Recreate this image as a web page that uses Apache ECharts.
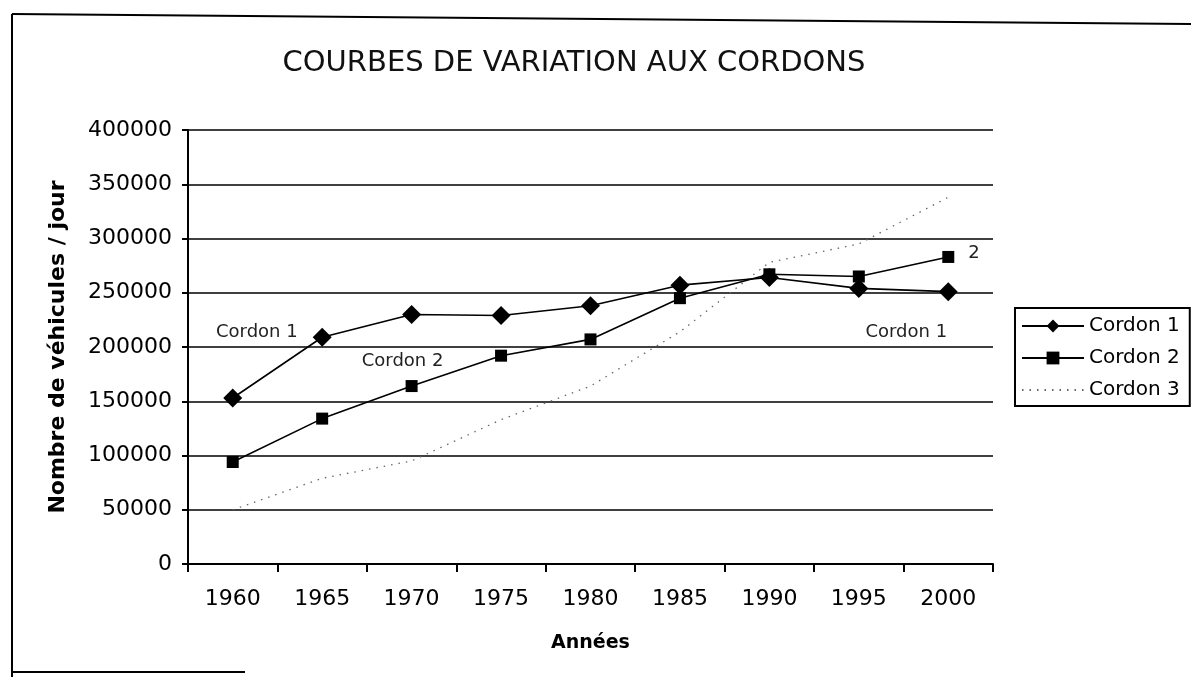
<!DOCTYPE html>
<html>
<head>
<meta charset="utf-8">
<script src="https://cdn.jsdelivr.net/npm/echarts@6/dist/echarts.min.js"></script>
<style>
  html, body { margin: 0; padding: 0; background: #fff; }
  #chart { width: 1191px; height: 677px; }
</style>
</head>
<body>
<div id="chart"></div>
<script>
const years = ['1960', '1965', '1970', '1975', '1980', '1985', '1990', '1995', '2000'];
const cordon1 = [153000, 209000, 230000, 229000, 238000, 257000, 264000, 254000, 251000];
const cordon2 = [94000, 134000, 164000, 192000, 207000, 245000, 267000, 265000, 283000];
const cordon3 = [50000, 79000, 95000, 133000, 164000, 214000, 278000, 295000, 338000];
const seriesNames = ['Cordon 1', 'Cordon 2', 'Cordon 3'];
const yTicks = { min: 0, max: 400000, interval: 50000 };

const FONT = 'DejaVu Sans';
const annoStyle = { show: true, color: '#222', fontFamily: FONT, fontSize: 18 };

function withLabels(values, labels) {
  return values.map((v, i) => labels[i] ? { value: v, label: Object.assign({}, annoStyle, labels[i]) } : v);
}

const c1Data = withLabels(cordon1, {
  1: { formatter: 'Cordon 1', position: 'left', distance: 15, offset: [0, -5] },
  8: { formatter: 'Cordon 1', position: 'bottom', distance: 4, offset: [-42, 18] }
});
const c2Data = withLabels(cordon2, {
  2: { formatter: 'Cordon 2', position: 'top', distance: 10, offset: [-9, 0] },
  8: { formatter: '2', position: 'right', distance: 14, offset: [0, -4] }
});

const chart = echarts.init(document.getElementById('chart'), null, { renderer: 'canvas' });
chart.setOption({
  backgroundColor: '#fff',
  animation: false,
  title: {
    text: 'COURBES DE VARIATION AUX CORDONS',
    left: 569, top: 44, textAlign: 'center',
    textStyle: { fontFamily: FONT, fontSize: 29, fontWeight: 'normal', color: '#111' }
  },
  graphic: [
    { type: 'line', shape: { x1: 12, y1: 14, x2: 1191, y2: 24 }, style: { stroke: '#000', lineWidth: 2 } },
    { type: 'line', shape: { x1: 12, y1: 14, x2: 12, y2: 677 }, style: { stroke: '#000', lineWidth: 2 } },
    { type: 'line', shape: { x1: 12, y1: 672, x2: 245, y2: 672 }, style: { stroke: '#000', lineWidth: 2 } }
  ],
  legend: {
    orient: 'vertical',
    left: 1015, top: 308,
    data: [
      { name: seriesNames[0] },
      { name: seriesNames[1] },
      { name: seriesNames[2], itemStyle: { opacity: 0 } }
    ],
    borderColor: '#000', borderWidth: 2, borderRadius: 0,
    padding: [8, 10, 6, 6],
    itemWidth: 62, itemHeight: 16, itemGap: 12,
    textStyle: { fontFamily: FONT, fontSize: 20, color: '#000' }
  },
  grid: { left: 188, right: 198, top: 130, bottom: 113, containLabel: false },
  xAxis: {
    type: 'category',
    data: years,
    boundaryGap: true,
    name: 'Années',
    nameLocation: 'middle',
    nameGap: 70,
    nameTextStyle: { fontFamily: FONT, fontSize: 19, fontWeight: 'bold', color: '#000' },
    axisLine: { lineStyle: { color: '#000', width: 2 } },
    axisTick: { show: true, length: 8, alignWithLabel: false, lineStyle: { color: '#000', width: 2 } },
    axisLabel: { fontFamily: FONT, fontSize: 22, color: '#000', margin: 24 },
    splitLine: { show: false }
  },
  yAxis: {
    type: 'value',
    min: yTicks.min, max: yTicks.max, interval: yTicks.interval,
    name: 'Nombre de véhicules / jour',
    nameLocation: 'middle',
    nameGap: 119,
    nameRotate: 90,
    nameTextStyle: { fontFamily: FONT, fontSize: 22, fontWeight: 'bold', color: '#000' },
    axisLine: { show: true, lineStyle: { color: '#000', width: 2 } },
    axisTick: { show: true, length: 6, lineStyle: { color: '#000', width: 2 } },
    axisLabel: { fontFamily: FONT, fontSize: 22, color: '#000', margin: 16, formatter: v => String(v) },
    splitLine: { show: true, lineStyle: { color: '#000', width: 1.5 } }
  },
  series: [
    {
      name: seriesNames[0], type: 'line', data: c1Data,
      symbol: 'diamond', symbolSize: 19,
      itemStyle: { color: '#000' },
      lineStyle: { color: '#000', width: 1.6 },
      z: 3
    },
    {
      name: seriesNames[1], type: 'line', data: c2Data,
      symbol: 'rect', symbolSize: 12,
      itemStyle: { color: '#000' },
      lineStyle: { color: '#000', width: 1.6 },
      z: 3
    },
    {
      name: seriesNames[2], type: 'line', data: cordon3,
      symbol: 'none',
      itemStyle: { color: '#666' },
      lineStyle: { color: '#666', width: 1.3, type: [1.5, 6] },
      z: 2
    }
  ]
});
</script>
</body>
</html>
